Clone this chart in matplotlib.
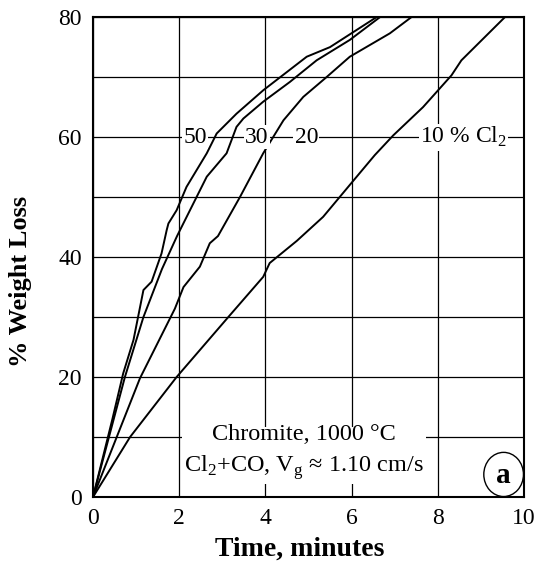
import numpy as np
import matplotlib.pyplot as plt

plt.rcParams['font.family'] = ['Liberation Serif', 'DejaVu Serif']
plt.rcParams['mathtext.fontset'] = 'custom'
plt.rcParams['mathtext.rm'] = 'Liberation Serif'

# --- data ---
t10 = [0, 0.86, 1.94, 3.14, 3.95, 4.1, 4.73, 5.34, 6.12, 6.54, 6.97, 7.66, 8.32, 8.55, 9.56]
w10 = [0, 10, 20, 30, 36.7, 39, 42.7, 46.7, 53.4, 57, 60.3, 65, 70.3, 72.8, 80]

t20 = [0, 1.09, 1.9, 2.1, 2.48, 2.71, 2.9, 3.41, 3.95, 4.42, 4.88, 5.42, 5.96, 6.89, 7.39]
w20 = [0, 19.8, 31.4, 35, 38.4, 42.3, 43.5, 50, 57.3, 62.8, 66.7, 70, 73.4, 77.3, 80]

t30 = [0, 0.74, 1.17, 1.6, 1.95, 2.64, 3.1, 3.33, 3.49, 3.95, 4.57, 5.19, 5.96, 6.66]
w30 = [0, 20, 30, 38, 43.5, 53.4, 57.3, 61.7, 63.1, 65.9, 69.2, 72.8, 76.2, 80]

t50 = [0, 0.45, 0.7, 0.94, 1.17, 1.36, 1.59, 1.71, 1.75, 1.94, 2.17, 2.64, 2.87, 3.33, 3.95, 4.96, 5.5, 6.58]
w50 = [0, 13, 20.6, 26.2, 34.5, 35.9, 40.6, 44.5, 45.6, 47.8, 51.7, 57.3, 60.6, 63.9, 67.8, 73.4, 75, 80]

curves = [(t10, w10), (t20, w20), (t30, w30), (t50, w50)]
labels = ['50', '30', '20', r'10 % Cl$_2$']
label_x = [2.37, 3.8, 4.95, 8.6]

fig = plt.figure(figsize=(5.44, 5.71), dpi=100)
ax = fig.add_axes([0.171, 0.1296, 0.792, 0.8404])

for t, w in curves:
    ax.plot(t, w, color='black', lw=1.4, zorder=3)

ax.set_xlim(0, 10)
ax.set_ylim(0, 80)
ax.set_xticks(np.arange(0, 11, 2))
ax.set_yticks(np.arange(0, 81, 20))
ax.set_yticks(np.arange(10, 80, 20), minor=True)
ax.grid(True, which='both', color='black', lw=0.9, zorder=1)
ax.tick_params(which='both', length=0, labelsize=17, pad=8)
for s in ax.spines.values():
    s.set_linewidth(1.5)

ax.set_xlabel('Time, minutes', fontsize=20, fontweight='bold')
ax.set_ylabel('% Weight Loss', fontsize=19, fontweight='bold')
ax.xaxis.set_label_coords(0.48, -0.082)
ax.yaxis.set_label_coords(-0.141, 0.45)

for x, lab in zip(label_x, labels):
    ax.text(x, 60, lab, fontsize=17, ha='center', va='center', zorder=4,
            bbox=dict(facecolor='white', edgecolor='none', pad=1.0))

ax.text(4.9, 7.3, 'Chromite, 1000 °C\n' + r'Cl$_2$+CO, V$_\mathrm{g}$ ≈ 1.10 cm/s',
        fontsize=17.5, ha='center', va='center', linespacing=1.45, zorder=4,
        bbox=dict(facecolor='white', edgecolor='none', pad=1.5))

ax.add_patch(plt.Circle((0.953, 0.047), 0.046, transform=ax.transAxes,
                        facecolor='white', edgecolor='black', lw=1, zorder=5,
                        clip_on=False))
ax.text(0.953, 0.044, 'a', transform=ax.transAxes, fontsize=21, fontweight='bold',
        ha='center', va='center', zorder=6)

fig.savefig('out.png', dpi=100)
